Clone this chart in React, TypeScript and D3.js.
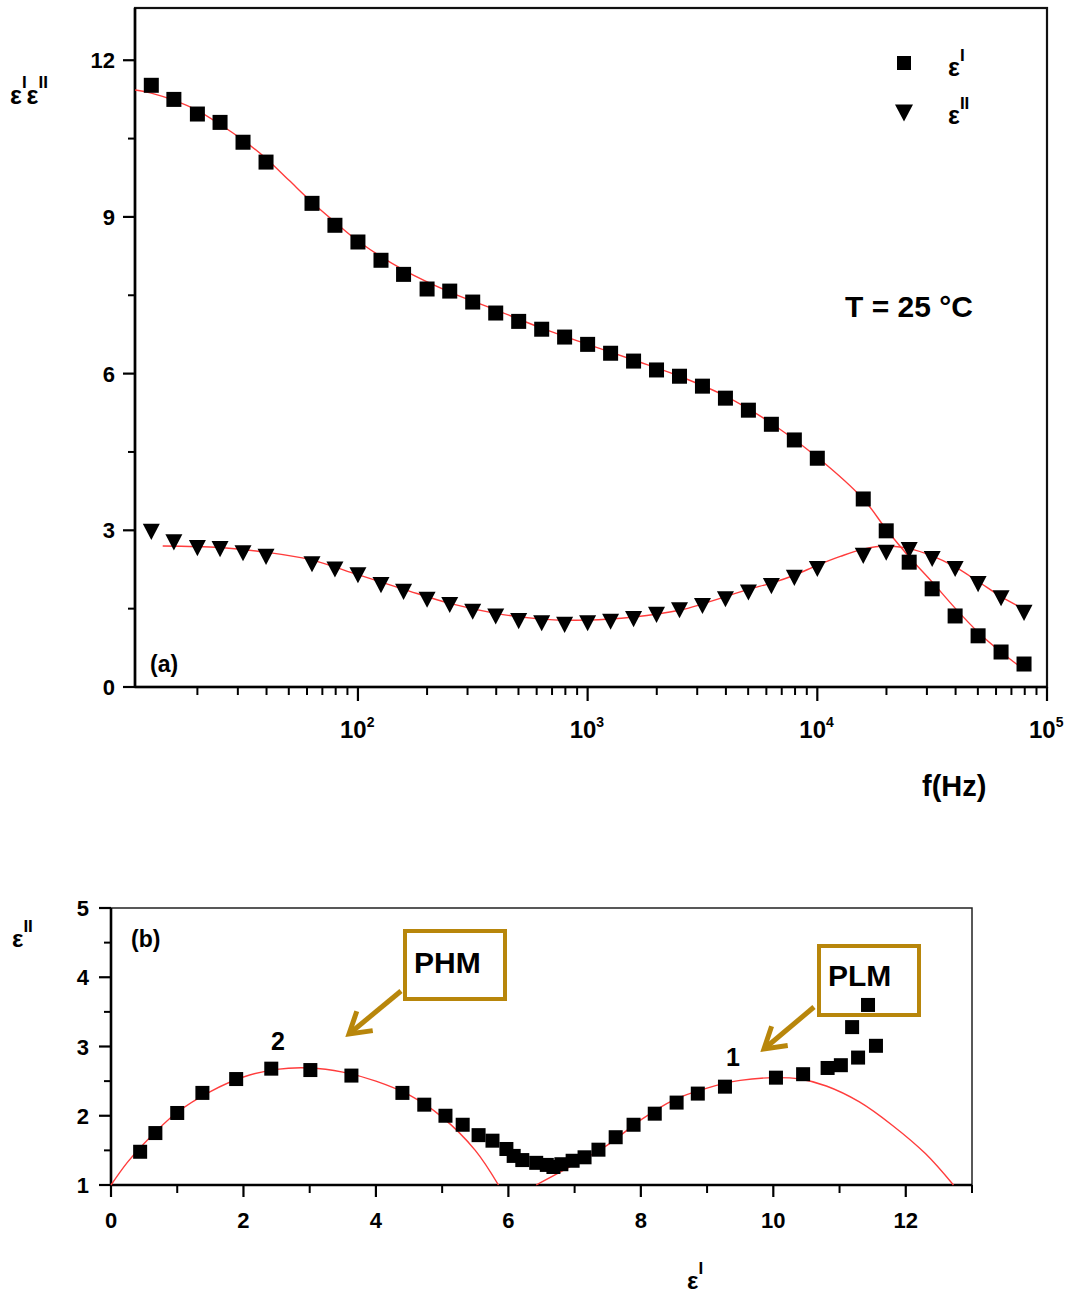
import * as d3 from 'd3';

// panel (a): dielectric spectrum, T = 25 °C
const freqHz = [12.6, 15.8, 20, 25.1, 31.6, 39.8, 63.1, 79.4, 100, 126, 158, 200, 251, 316, 398, 501, 631, 794,
  1000, 1259, 1585, 1995, 2512, 3162, 3981, 5012, 6310, 7943, 10000, 15849, 19953, 25119, 31623, 39811, 50119, 63096, 79433];
const epsReal = [11.52, 11.25, 10.97, 10.81, 10.43, 10.05, 9.26, 8.84, 8.52, 8.17, 7.9, 7.62, 7.58, 7.37, 7.16, 7.0, 6.85, 6.7,
  6.56, 6.39, 6.24, 6.07, 5.95, 5.76, 5.53, 5.3, 5.03, 4.73, 4.38, 3.6, 2.99, 2.39, 1.88, 1.36, 0.98, 0.67, 0.44];
const epsImag = [2.97, 2.77, 2.66, 2.64, 2.56, 2.49, 2.35, 2.25, 2.14, 1.95, 1.82, 1.67, 1.57, 1.44, 1.35, 1.26, 1.22, 1.19,
  1.22, 1.25, 1.3, 1.38, 1.47, 1.55, 1.68, 1.81, 1.93, 2.09, 2.26, 2.51, 2.57, 2.62, 2.45, 2.26, 1.97, 1.7, 1.42];

// fitted curves (log10 f, value)
const fitRealLogF = [1.03, 1.1, 1.2, 1.3, 1.4, 1.5, 1.6, 1.7, 1.8, 1.9, 2.0, 2.2, 2.4, 2.6, 2.8, 3.0, 3.2, 3.4, 3.6, 3.8, 4.0, 4.2, 4.3, 4.4, 4.5, 4.6, 4.7, 4.8, 4.9];
const fitRealVal = [11.43, 11.37, 11.23, 11.04, 10.77, 10.47, 10.12, 9.7, 9.28, 8.9, 8.54, 7.98, 7.56, 7.22, 6.87, 6.56, 6.26, 5.95, 5.57, 5.05, 4.4, 3.6, 3.02, 2.49, 2.01, 1.51, 1.05, 0.67, 0.33];
const fitImagLogF = [1.15, 1.4, 1.6, 1.8, 2.0, 2.2, 2.4, 2.6, 2.8, 3.0, 3.2, 3.4, 3.5, 3.6, 3.7, 3.8, 3.9, 4.0, 4.1, 4.2, 4.3, 4.4, 4.5, 4.6, 4.7, 4.8, 4.9];
const fitImagVal = [2.7, 2.67, 2.58, 2.43, 2.15, 1.87, 1.6, 1.41, 1.3, 1.28, 1.34, 1.47, 1.59, 1.73, 1.87, 1.99, 2.14, 2.33, 2.5, 2.64, 2.7, 2.65, 2.51, 2.3, 2.02, 1.73, 1.49];

// panel (b): Cole-Cole plot
const coleReal = [0.44, 0.67, 1.0, 1.38, 1.89, 2.42, 3.01, 3.63, 4.4, 4.73, 5.05, 5.31, 5.55, 5.76, 5.97, 6.08, 6.21, 6.42, 6.58, 6.68,
  6.8, 6.97, 7.15, 7.36, 7.62, 7.89, 8.21, 8.54, 8.86, 9.27, 10.04, 10.45, 10.82, 11.02, 11.28, 11.55, 11.19, 11.43];
const coleImag = [1.48, 1.75, 2.04, 2.33, 2.53, 2.68, 2.66, 2.58, 2.33, 2.16, 2.0, 1.87, 1.72, 1.64, 1.52, 1.42, 1.36, 1.32, 1.29, 1.26,
  1.3, 1.35, 1.4, 1.51, 1.69, 1.87, 2.03, 2.19, 2.32, 2.42, 2.55, 2.6, 2.69, 2.73, 2.84, 3.01, 3.28, 3.6];
const phmArcX = [0, 0.25, 0.5, 1, 1.5, 2, 2.5, 3, 3.5, 4, 4.5, 5, 5.5, 5.85];
const phmArcY = [1.0, 1.33, 1.6, 2.05, 2.35, 2.56, 2.67, 2.69, 2.63, 2.5, 2.3, 1.98, 1.5, 1.0];
const plmArcX = [6.42, 7.0, 7.5, 8.0, 8.5, 9.0, 9.5, 10.0, 10.4, 10.8, 11.3, 11.8, 12.3, 12.72];
const plmArcY = [1.0, 1.3, 1.58, 1.94, 2.23, 2.4, 2.51, 2.55, 2.53, 2.43, 2.2, 1.86, 1.45, 1.0];

const decadeTicks = [100, 1000, 10000, 100000];
const yTicksA = [0, 3, 6, 9, 12];
const xTicksB = [0, 2, 4, 6, 8, 10, 12];
const yTicksB = [1, 2, 3, 4, 5];

const FONT = '"Liberation Sans", Arial, Helvetica, sans-serif';
const RED = '#ff3c3c';
const GOLD = '#b8860b';

function Square({ x, y, s }: { x: number; y: number; s: number }) {
  return <rect x={x - s / 2} y={y - s / 2} width={s} height={s} fill="#000" />;
}

function TriDown({ x, y, s }: { x: number; y: number; s: number }) {
  const h = s * 0.95;
  return <path d={`M${x - s / 2},${y - h / 2}L${x + s / 2},${y - h / 2}L${x},${y + h / 2}Z`} fill="#000" />;
}

function Arrow({ x1, y1, x2, y2 }: { x1: number; y1: number; x2: number; y2: number }) {
  const a = Math.atan2(y2 - y1, x2 - x1);
  const len = 24, spread = 0.55;
  const b1 = [x2 - len * Math.cos(a - spread), y2 - len * Math.sin(a - spread)];
  const b2 = [x2 - len * Math.cos(a + spread), y2 - len * Math.sin(a + spread)];
  return (
    <g stroke={GOLD} strokeWidth={5} fill="none" strokeLinecap="butt" strokeLinejoin="miter">
      <line x1={x1} y1={y1} x2={x2 - 2 * Math.cos(a)} y2={y2 - 2 * Math.sin(a)} />
      <polyline points={`${b1[0]},${b1[1]} ${x2},${y2} ${b2[0]},${b2[1]}`} />
    </g>
  );
}

export default function App() {
  // ---- panel (a)
  const aL = 135, aR = 1047, aT = 8, aB = 687;
  const xA = d3.scaleLog().domain([10.7, 1e5]).range([aL, aR]);
  const yA = d3.scaleLinear().domain([0, 13]).range([aB, aT]);
  const minorA: number[] = [];
  [10, 100, 1000, 10000].forEach(d => {
    for (let k = 2; k <= 9; k++) if (k * d >= 10.7 && k * d <= 1e5) minorA.push(k * d);
  });
  const yMinorA = d3.range(1.5, 13, 3);

  const fitLineA = d3.line<[number, number]>()
    .x(d => xA(Math.pow(10, d[0])))
    .y(d => yA(d[1]))
    .curve(d3.curveCatmullRom.alpha(0.5));
  const fitRealPts = fitRealLogF.map((f, i) => [f, fitRealVal[i]] as [number, number]);
  const fitImagPts = fitImagLogF.map((f, i) => [f, fitImagVal[i]] as [number, number]);

  // ---- panel (b)
  const bL = 111, bR = 972, bT = 908, bB = 1185;
  const xB = d3.scaleLinear().domain([0, 13]).range([bL, bR]);
  const yB = d3.scaleLinear().domain([1, 5]).range([bB, bT]);
  const xMinorB = d3.range(1, 14, 2);
  const yMinorB = d3.range(1.5, 5, 1);
  const arcLine = d3.line<[number, number]>()
    .x(d => xB(d[0]))
    .y(d => yB(d[1]))
    .curve(d3.curveCatmullRom.alpha(0.5));
  const phmPts = phmArcX.map((v, i) => [v, phmArcY[i]] as [number, number]);
  const plmPts = plmArcX.map((v, i) => [v, plmArcY[i]] as [number, number]);

  return (
    <svg width={1078} height={1295} style={{ position: 'absolute', left: 0, top: 0, background: '#fff' }}
      fontFamily={FONT}>
      <rect width={1078} height={1295} fill="#fff" />

      {/* ================= panel (a) ================= */}
      <rect x={aL} y={aT} width={aR - aL} height={aB - aT} fill="none" stroke="#111" strokeWidth={2.2} />
      <line x1={aL} y1={aT} x2={aL} y2={aB} stroke="#000" strokeWidth={2.6} />
      <line x1={aL} y1={aB} x2={aR} y2={aB} stroke="#000" strokeWidth={2.6} />

      {yTicksA.map(t => (
        <g key={'ya' + t}>
          <line x1={aL - 12} x2={aL} y1={yA(t)} y2={yA(t)} stroke="#000" strokeWidth={2.2} />
          <text x={aL - 20} y={yA(t) + 8} textAnchor="end" fontSize={22} fontWeight="bold">{t}</text>
        </g>
      ))}
      {yMinorA.map(t => (
        <line key={'yma' + t} x1={aL - 7} x2={aL} y1={yA(t)} y2={yA(t)} stroke="#000" strokeWidth={2} />
      ))}
      {decadeTicks.map(t => (
        <g key={'xa' + t}>
          <line x1={xA(t)} x2={xA(t)} y1={aB} y2={aB + 14} stroke="#000" strokeWidth={2.2} />
          <text x={xA(t) - 18} y={738} fontSize={24} fontWeight="bold">
            10<tspan fontSize={14} dy={-11}>{Math.round(Math.log10(t))}</tspan>
          </text>
        </g>
      ))}
      {minorA.map(t => (
        <line key={'xma' + t} x1={xA(t)} x2={xA(t)} y1={aB} y2={aB + 8} stroke="#000" strokeWidth={2} />
      ))}

      <path d={fitLineA(fitRealPts) || ''} fill="none" stroke={RED} strokeWidth={1.4} />
      <path d={fitLineA(fitImagPts) || ''} fill="none" stroke={RED} strokeWidth={1.4} />

      {freqHz.map((f, i) => <Square key={'sq' + i} x={xA(f)} y={yA(epsReal[i])} s={15} />)}
      {freqHz.map((f, i) => <TriDown key={'tr' + i} x={xA(f)} y={yA(epsImag[i])} s={17} />)}

      {/* legend */}
      <Square x={904} y={63} s={14} />
      <text x={948} y={76} fontSize={25} fontWeight="bold">ε<tspan fontSize={17} dy={-15}>I</tspan></text>
      <TriDown x={904} y={113} s={18} />
      <text x={948} y={124} fontSize={25} fontWeight="bold">ε<tspan fontSize={17} dy={-15}>II</tspan></text>

      <text x={845} y={317} fontSize={30} fontWeight="bold">T = 25 °C</text>
      <text x={150} y={672} fontSize={23} fontWeight="bold">(a)</text>
      <text x={922} y={796} fontSize={29} fontWeight="bold">f(Hz)</text>

      <text x={10} y={104} fontSize={25} fontWeight="bold">
        ε<tspan fontSize={17} dy={-16}>I</tspan><tspan dy={16}>ε</tspan><tspan fontSize={17} dy={-16}>II</tspan>
      </text>

      {/* ================= panel (b) ================= */}
      <rect x={bL} y={bT} width={bR - bL} height={bB - bT} fill="none" stroke="#222" strokeWidth={1.5} />
      <line x1={bL} y1={bT} x2={bL} y2={bB} stroke="#000" strokeWidth={2.6} />
      <line x1={bL} y1={bB} x2={bR} y2={bB} stroke="#000" strokeWidth={2.6} />

      {yTicksB.map(t => (
        <g key={'yb' + t}>
          <line x1={bL - 12} x2={bL} y1={yB(t)} y2={yB(t)} stroke="#000" strokeWidth={2.2} />
          <text x={bL - 22} y={yB(t) + 8} textAnchor="end" fontSize={22} fontWeight="bold">{t}</text>
        </g>
      ))}
      {yMinorB.map(t => (
        <line key={'ymb' + t} x1={bL - 7} x2={bL} y1={yB(t)} y2={yB(t)} stroke="#000" strokeWidth={2} />
      ))}
      {xTicksB.map(t => (
        <g key={'xb' + t}>
          <line x1={xB(t)} x2={xB(t)} y1={bB} y2={bB + 12} stroke="#000" strokeWidth={2.2} />
          <text x={xB(t)} y={1228} textAnchor="middle" fontSize={22} fontWeight="bold">{t}</text>
        </g>
      ))}
      {xMinorB.map(t => (
        <line key={'xmb' + t} x1={xB(t)} x2={xB(t)} y1={bB} y2={bB + 8} stroke="#000" strokeWidth={2} />
      ))}

      <path d={arcLine(phmPts) || ''} fill="none" stroke={RED} strokeWidth={1.4} />
      <path d={arcLine(plmPts) || ''} fill="none" stroke={RED} strokeWidth={1.4} />

      {coleReal.map((v, i) => <Square key={'cb' + i} x={xB(v)} y={yB(coleImag[i])} s={14} />)}

      <text x={131} y={947} fontSize={23} fontWeight="bold">(b)</text>
      <text x={12} y={947} fontSize={24} fontWeight="bold">ε<tspan fontSize={17} dy={-15}>II</tspan></text>
      <text x={687} y={1289} fontSize={24} fontWeight="bold">ε<tspan fontSize={17} dy={-15}>I</tspan></text>

      <text x={278} y={1050} textAnchor="middle" fontSize={25} fontWeight="bold">2</text>
      <text x={733} y={1066} textAnchor="middle" fontSize={25} fontWeight="bold">1</text>

      <rect x={405} y={931} width={100} height={68} fill="none" stroke={GOLD} strokeWidth={4} />
      <text x={414} y={973} fontSize={30} fontWeight="bold">PHM</text>
      <Arrow x1={401} y1={991} x2={349} y2={1034} />

      <rect x={819} y={946} width={100} height={69} fill="none" stroke={GOLD} strokeWidth={4} />
      <text x={828} y={986} fontSize={30} fontWeight="bold">PLM</text>
      <Arrow x1={814} y1={1007} x2={764} y2={1049} />
    </svg>
  );
}
